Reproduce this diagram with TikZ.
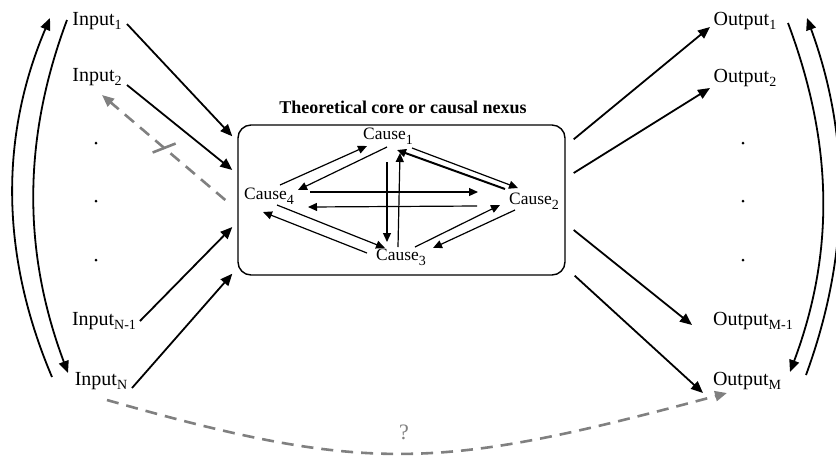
\documentclass[tikz,border=0pt]{standalone}
\usepackage{fontspec}
\setmainfont{Liberation Serif}
\usetikzlibrary{arrows.meta,positioning}
\definecolor{cgray}{RGB}{128,128,128}
\newcommand{\lowsub}[1]{\raisebox{-2.3pt}{\fontsize{7}{8}\selectfont #1}}

\begin{document}
\begin{tikzpicture}[x=0.5pt, y=-0.5pt,
    >={Triangle[length=6pt,width=5pt]},
    lbl/.style={inner sep=0pt, font=\fontsize{10}{12}\selectfont},
    cause/.style={inner sep=0pt, font=\fontsize{8.7}{10}\selectfont},
    dot/.style={circle, fill, inner sep=0pt, minimum size=1.5pt},
    flow/.style={->, line width=0.9pt},
    link/.style={-{Triangle[length=4.5pt,width=4pt]}, line width=0.6pt},
    lost/.style={->, cgray, line width=1.3pt, dash pattern=on 6pt off 4pt},
  ]
  \useasboundingbox (0,0) rectangle (836,457);

  % Inputs
  \node[lbl] (in1) at (97,21) {Input\lowsub{1}};
  \node[lbl] (in2) at (97,77) {Input\lowsub{2}};
  \node[dot] (ldot1) at (96,143) {};
  \node[dot] (ldot2) at (96,201) {};
  \node[dot] (ldot3) at (96,260) {};
  \node[lbl] (inN1) at (104,321) {Input\lowsub{N-1}};
  \node[lbl] (inN) at (101,381) {Input\lowsub{N}};

  % Outputs
  \node[lbl] (out1) at (745,21) {Output\lowsub{1}};
  \node[lbl] (out2) at (745,78) {Output\lowsub{2}};
  \node[dot] (rdot1) at (743,143) {};
  \node[dot] (rdot2) at (743,201) {};
  \node[dot] (rdot3) at (743,260) {};
  \node[lbl] (outM1) at (753,321) {Output\lowsub{M-1}};
  \node[lbl] (outM) at (747,381) {Output\lowsub{M}};

  % Core
  \node[font=\fontsize{9}{11}\selectfont\bfseries] (title) at (403,107) {Theoretical core or causal nexus};
  \node[draw, rounded corners=6.5pt, line width=0.7pt,
        minimum width=163.5pt, minimum height=75pt] (core) at (401.5,200) {};
  \node[cause] (c1) at (388,136) {Cause\lowsub{1}};
  \node[cause] (c2) at (534,201) {Cause\lowsub{2}};
  \node[cause] (c3) at (401,257) {Cause\lowsub{3}};
  \node[cause] (c4) at (269,196) {Cause\lowsub{4}};

  % causal links
  \draw[link] ([shift={(-1,11)}]c1.center) -- ([shift={(29,-6)}]c4.center);
  \draw[link] ([shift={(11,-11)}]c4.center) -- ([shift={(-21,10)}]c1.center);
  \draw[link] ([shift={(24,12)}]c1.center) -- ([shift={(-16,-13)}]c2.center);
  \draw[link, line width=1pt] ([shift={(-29,-12)}]c2.center) -- ([shift={(9,14)}]c1.center);
  \draw[link] ([shift={(41,-4)}]c4.center) -- ([shift={(-56,-9)}]c2.center);
  \draw[link] ([shift={(-57,5)}]c2.center) -- ([shift={(39,11)}]c4.center);
  \draw[link] ([shift={(-1,26)}]c1.center) -- ([shift={(-14,-15)}]c3.center);
  \draw[link] ([shift={(-3,-10)}]c3.center) -- ([shift={(12,17)}]c1.center);
  \draw[link] ([shift={(8,9)}]c4.center) -- ([shift={(-16,-9)}]c3.center);
  \draw[link] ([shift={(-34,-4)}]c3.center) -- ([shift={(-6,16)}]c4.center);
  \draw[link] ([shift={(14,-10)}]c3.center) -- ([shift={(-34,4)}]c2.center);
  \draw[link] ([shift={(-19,9)}]c2.center) -- ([shift={(32,-9)}]c3.center);

  % inputs into the core
  \draw[flow] ([shift={(30,3)}]in1.center) -- ([shift={(-5,12)}]core.north west);
  \draw[flow] ([shift={(30,8)}]in2.center) -- ([shift={(-5,-30)}]core.west);
  \draw[flow] ([shift={(36,0)}]inN1.center) -- ([shift={(-5,27)}]core.west);
  \draw[flow] ([shift={(31,7)}]inN.center) -- ([shift={(-5,-2)}]core.south west);

  % core out to outputs
  \draw[flow] ([shift={(8,15)}]core.north east) -- ([shift={(-35,6)}]out1.center);
  \draw[flow] ([shift={(8,-27)}]core.east) -- ([shift={(-35,10)}]out2.center);
  \draw[flow] ([shift={(8,30)}]core.east) -- ([shift={(-61,4)}]outM1.center);
  \draw[flow] ([shift={(9,0)}]core.south east) -- ([shift={(-44,12)}]outM.center);

  % feedback arcs
  \draw[flow] ([shift={(-49,-4)}]inN.center) .. controls +(-51,-120) and +(-51,120) .. ([shift={(-47,-3)}]in1.center);
  \draw[flow] ([shift={(-30,-1)}]in1.center) .. controls +(-45,120) and +(-45,-120) .. ([shift={(-33,-8)}]inN.center);
  \draw[flow] ([shift={(43,2)}]out1.center) .. controls +(45,120) and +(45,-120) .. ([shift={(43,-9)}]outM.center);
  \draw[flow] ([shift={(59,-6)}]outM.center) .. controls +(44,-120) and +(44,120) .. ([shift={(62,-3)}]out1.center);

  % dashed gray links
  \draw[lost] ([xshift=-6]core.west) -- coordinate[pos=0.5] (cut) ([shift={(5,18)}]in2.center);
  \draw[cgray, line width=1.3pt] ([shift={(-11,5)}]cut) -- ([shift={(12,-4)}]cut);
  \draw[lost] ([shift={(6,19)}]inN.center) .. controls (370,475) and (440,470) .. ([shift={(-20,12)}]outM.center);
  \node[lbl, text=cgray, font=\fontsize{11}{13}\selectfont] (unk) at (404,432) {?};
\end{tikzpicture}
\end{document}
